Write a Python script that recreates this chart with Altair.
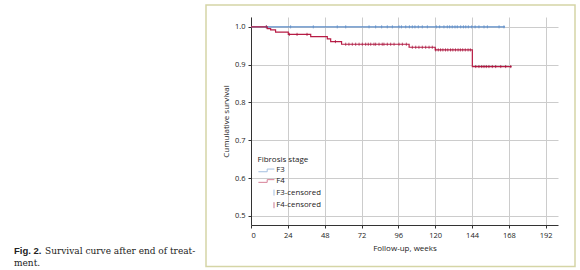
import altair as alt
import pandas as pd

# ---------------- data ----------------
series_names = ["F3", "F4", "F3-censored", "F4-censored"]
series_colors = ["#5b8cc9", "#b81c45", "#5b8cc9", "#a3123a"]

f3_weeks = [0, 165.5]
f3_surv = [1.0, 1.0]

f4_weeks = [0, 10.6, 12.8, 16.0, 24.3, 38.9, 49.7, 51.9, 59.0, 103.0, 120.0, 144.2, 169.8]
f4_surv = [1.0, 0.995, 0.992, 0.986, 0.980, 0.974, 0.968, 0.961, 0.954, 0.946, 0.939, 0.895, 0.895]

f3_censored = [10, 25.8, 40.6, 56.2, 61.7, 76.9, 81.2, 85.1, 88.8, 92.1, 96.4, 98.0,
               100.8, 103.2, 105.1, 106.8, 109.0, 111.6, 114.9, 120.7, 122.9, 125.7,
               127.9, 129.4, 131.1, 132.9, 134.4, 136.6, 138.4, 139.9, 141.6, 143.8,
               146.0, 148.5, 151.8, 154.0, 161.6, 164.8]

f4_censored = [10.0, 25.0, 30.0, 36.5, 55.0,
               61.7, 63.8, 66.0, 68.2, 70.4, 72.5, 74.7, 76.4, 78.0, 80.1, 81.2, 83.4,
               85.5, 86.6, 88.8, 91.0, 93.2, 96.4, 98.6, 101.2,
               105.1, 107.3, 109.4, 111.6, 113.8, 116.0, 118.1,
               120.3, 122.0, 123.5, 125.0, 126.7, 128.2, 130.0, 131.5, 133.2, 134.9,
               136.4, 137.9, 139.6, 141.4, 142.9,
               146.4, 148.5, 150.3, 151.8, 153.3, 155.0, 157.2, 159.4, 162.7, 165.9, 169.2]

x_ticks = [0, 24, 48, 72, 96, 120, 144, 168, 192]
y_ticks = [0.5, 0.6, 0.7, 0.8, 0.9, 1.0]

legend_title = "\u00a0\u00a0Fibrosis stage"
caption_bold = "Fig. 2."
caption_line1 = "Survival curve after end of treat-"
caption_line2 = "ment."


def surv_at(t, weeks, surv):
    val = surv[0]
    for w, s in zip(weeks, surv):
        if w <= t:
            val = s
    return val


# ---------------- tables ----------------
curves = pd.DataFrame(
    [{"week": w, "surv": s, "series": "F3"} for w, s in zip(f3_weeks, f3_surv)]
    + [{"week": w, "surv": s, "series": "F4"} for w, s in zip(f4_weeks, f4_surv)]
)
ticks = pd.DataFrame(
    [{"week": t, "surv": surv_at(t, f3_weeks, f3_surv), "series": "F3-censored"} for t in f3_censored]
    + [{"week": t, "surv": surv_at(t, f4_weeks, f4_surv), "series": "F4-censored"} for t in f4_censored]
)
legend_rows = pd.DataFrame({"week": [0] * 4, "surv": [1.0] * 4, "series": series_names})

FONT = "Open Sans"

xscale = alt.Scale(domain=[0, 200], nice=False, zero=False)
yscale = alt.Scale(domain=[0.476, 1.026], nice=False, zero=False)
cscale = alt.Scale(domain=series_names, range=series_colors)

step_path = "M-1,0.45H1.93V-0.45H4.33"
tick_path = "M4.2,-1V1"
sscale = alt.Scale(domain=series_names, range=[step_path, step_path, tick_path, tick_path])

legend = alt.Legend(
    title=legend_title,
    orient="none",
    legendX=6.5,
    legendY=138.5,
    padding=0,
    symbolSize=36,
    symbolStrokeWidth=1,
    symbolOpacity=0.55,
    symbolFillColor="transparent",
    labelOffset=11,
    labelFont=FONT,
    labelFontSize=7.8,
    labelColor="#222",
    titleFont=FONT,
    titleFontSize=8,
    titleFontWeight="normal",
    titleColor="#222",
    titlePadding=3,
    rowPadding=1.6,
)

x_axis = alt.Axis(values=x_ticks, title="Follow-up, weeks", format="d", labelOverlap=False)
y_axis = alt.Axis(values=y_ticks, title="Cumulative survival", format=".1f", labelOverlap=False)


def xy():
    return dict(
        x=alt.X("week:Q", scale=xscale, axis=x_axis),
        y=alt.Y("surv:Q", scale=yscale, axis=y_axis),
    )


lines = alt.Chart(curves).mark_line(interpolate="step-after", strokeWidth=1.2, clip=True).encode(
    color=alt.Color("series:N", scale=cscale, legend=legend),
    detail="series:N",
    **xy(),
)

cens = alt.Chart(ticks).mark_point(shape="M0,-1V1", size=10, filled=False, strokeWidth=0.8, opacity=0.9).encode(
    color=alt.Color("series:N", scale=cscale, legend=legend),
    **xy(),
)

legend_layer = alt.Chart(legend_rows).mark_point(filled=False, strokeWidth=1).encode(
    color=alt.Color("series:N", scale=cscale, legend=legend),
    shape=alt.Shape("series:N", scale=sscale, legend=legend),
    opacity=alt.value(0),
    **xy(),
)

one = pd.DataFrame({"k": [0]})

border = alt.Chart(one).mark_rect(fill=None, stroke="#d5d5a6", strokeWidth=1.5).encode(
    x=alt.value(-45), x2=alt.value(324), y=alt.value(-12), y2=alt.value(249.5)
)

cap_bold = alt.Chart(pd.DataFrame({"t": [caption_bold]})).mark_text(
    align="left", baseline="middle", font="Liberation Sans", fontWeight="bold", fontSize=9.5, color="#222"
).encode(text="t:N", x=alt.value(-237), y=alt.value(234))

cap1 = alt.Chart(pd.DataFrame({"t": [caption_line1]})).mark_text(
    align="left", baseline="middle", font="DejaVu Serif", fontSize=9.0, color="#222"
).encode(text="t:N", x=alt.value(-206), y=alt.value(234))

cap2 = alt.Chart(pd.DataFrame({"t": [caption_line2]})).mark_text(
    align="left", baseline="middle", font="DejaVu Serif", fontSize=9.0, color="#222"
).encode(text="t:N", x=alt.value(-237), y=alt.value(245.5))

chart = alt.layer(border, lines, cens, legend_layer, cap_bold, cap1, cap2).properties(
    width=307,
    height=208,
    autosize=alt.AutoSizeParams(type="none"),
    padding={"left": 251, "top": 17, "right": 22, "bottom": 45},
    background="white",
).configure_view(stroke=None).configure_axis(
    labelFont=FONT,
    labelFontSize=7.5,
    labelColor="#222",
    labelOverlap=False,
    titleFont=FONT,
    titleFontSize=8,
    titleFontWeight="normal",
    titleColor="#222",
    domainColor="#333",
    domainWidth=1,
    tickColor="#333",
    tickSize=3,
    gridColor="#cccccc",
    gridWidth=1,
).configure_axisX(
    labelPadding=3, titlePadding=6,
).configure_axisY(
    labelPadding=3, titlePadding=4,
)

chart.save("out.html", embed_options={"renderer": "svg", "actions": False})
